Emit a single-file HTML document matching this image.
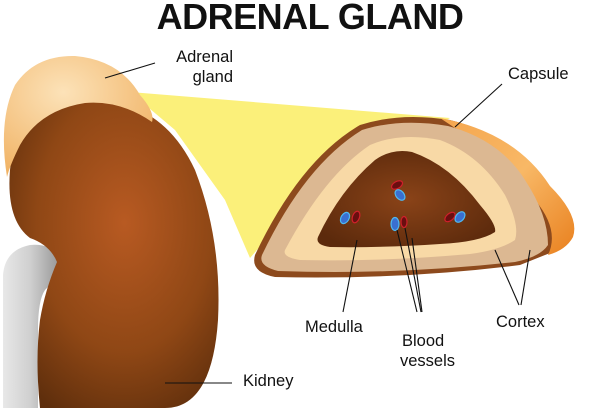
<!DOCTYPE html>
<html><head><meta charset="utf-8"><style>
html,body{margin:0;padding:0;background:#fff;}
svg{display:block;}
text{font-family:"Liberation Sans",sans-serif;fill:#111;}
</style></head><body>
<svg width="612" height="408" viewBox="0 0 612 408" xmlns="http://www.w3.org/2000/svg">
<defs>
<radialGradient id="kid" cx="0.55" cy="0.4" r="0.7">
<stop offset="0" stop-color="#b85a22"/><stop offset="0.6" stop-color="#8f4715"/><stop offset="1" stop-color="#5e2e0c"/>
</radialGradient>
<linearGradient id="ure" x1="0" x2="1"><stop offset="0" stop-color="#e8e8e8"/><stop offset="0.5" stop-color="#cfcfcf"/><stop offset="1" stop-color="#9a9a9a"/></linearGradient>
<radialGradient id="adr" cx="0.4" cy="0.3" r="0.8"><stop offset="0" stop-color="#fce2b8"/><stop offset="1" stop-color="#f0b060"/></radialGradient>
<linearGradient id="cap" x1="0" x2="1" y1="0" y2="1"><stop offset="0" stop-color="#f5a64e"/><stop offset="0.5" stop-color="#f8b866"/><stop offset="1" stop-color="#e9801e"/></linearGradient>
<radialGradient id="med" cx="0.5" cy="0.5" r="0.6"><stop offset="0" stop-color="#8a4318"/><stop offset="1" stop-color="#5c2a0c"/></radialGradient>
</defs>
<text x="310" y="29" text-anchor="middle" font-size="36" font-weight="bold" letter-spacing="-0.5">ADRENAL GLAND</text>
<!-- yellow beam -->
<polygon points="130,92 450,118 300,200 250,258 225,200 175,130" fill="#fbf07a"/>
<!-- ureter -->
<path d="M3,408 L3,275 Q5,250 30,245 Q55,243 58,262 Q58,278 45,290 Q38,300 38,330 L38,408 Z" fill="url(#ure)"/>
<!-- kidney -->
<path d="M10,170 Q15,108 80,100 Q160,95 195,170 Q222,240 218,320 Q212,408 165,408 L40,408 Q35,360 40,320 Q45,290 57,262 Q50,245 30,238 Q6,220 10,170 Z" fill="url(#kid)"/>
<!-- adrenal on kidney -->
<path d="M7,177 Q-2,120 15,85 Q35,55 75,56 Q120,60 140,95 Q155,112 152,122 Q120,100 85,103 Q40,110 20,145 Q10,165 7,177 Z" fill="url(#adr)"/>
<!-- section -->
<path d="M255,255 Q300,160 360,125 Q400,112 450,120 Q510,135 545,185 Q575,215 572,235 Q565,248 545,255 L520,265 Q400,280 275,277 Q250,272 255,255 Z" fill="#8d4a1d"/>
<path d="M440,118 Q515,132 550,186 Q580,216 573,237 Q566,250 548,255 Q560,230 535,200 Q500,150 455,128 Z" fill="url(#cap)"/>
<path d="M262,255 Q305,165 362,130 Q400,118 448,126 Q500,140 525,180 Q548,215 548,245 Q540,257 515,262 Q400,275 278,271 Q258,266 262,255 Z" fill="#dcb892"/>
<path d="M285,250 Q325,175 370,145 Q400,132 440,140 Q480,155 505,195 Q520,225 515,240 Q500,250 470,254 Q380,262 300,260 Q282,257 285,250 Z" fill="#f8d9a6"/>
<path d="M318,237 Q340,190 375,160 Q392,148 412,152 Q450,165 480,205 Q497,225 495,232 Q480,242 440,244 Q380,248 330,247 Q315,245 318,237 Z" fill="url(#med)"/>
<g stroke-width="1.2">
<ellipse cx="345" cy="218" rx="4" ry="6" transform="rotate(30 345 218)" fill="#3a6fd0" stroke="#4fb8f0"/>
<ellipse cx="356" cy="217" rx="3.5" ry="6" transform="rotate(20 356 217)" fill="#6a0e10" stroke="#d0202a"/>
<ellipse cx="397" cy="185" rx="3.5" ry="6" transform="rotate(60 397 185)" fill="#6a0e10" stroke="#d0202a"/>
<ellipse cx="400" cy="195" rx="4" ry="6" transform="rotate(-40 400 195)" fill="#3a6fd0" stroke="#4fb8f0"/>
<ellipse cx="395" cy="224" rx="4" ry="6.5" fill="#3a6fd0" stroke="#4fb8f0"/>
<ellipse cx="404" cy="222" rx="3" ry="5.5" fill="#6a0e10" stroke="#d0202a"/>
<ellipse cx="450" cy="217" rx="3.5" ry="6" transform="rotate(50 450 217)" fill="#6a0e10" stroke="#d0202a"/>
<ellipse cx="460" cy="217" rx="4" ry="6" transform="rotate(40 460 217)" fill="#3a6fd0" stroke="#4fb8f0"/>
</g>
<g stroke="#111" stroke-width="1.1" fill="none">
<line x1="105" y1="78" x2="155" y2="63"/>
<line x1="455" y1="127" x2="502" y2="84"/>
<line x1="357" y1="240" x2="343" y2="312"/>
<line x1="397" y1="230" x2="417" y2="312"/>
<line x1="405" y1="228" x2="421" y2="312"/>
<line x1="412" y1="238" x2="422" y2="312"/>
<line x1="495" y1="250" x2="519" y2="305"/>
<line x1="530" y1="250" x2="521" y2="305"/>
<line x1="165" y1="383" x2="232" y2="383"/>
</g>
<g font-size="16.5">
<text x="233" y="62" text-anchor="end">Adrenal</text>
<text x="233" y="82" text-anchor="end">gland</text>
<text x="508" y="79">Capsule</text>
<text x="305" y="332">Medulla</text>
<text x="402" y="346">Blood</text>
<text x="400" y="366">vessels</text>
<text x="496" y="327">Cortex</text>
<text x="243" y="386">Kidney</text>
</g>
</svg>
</body></html>
